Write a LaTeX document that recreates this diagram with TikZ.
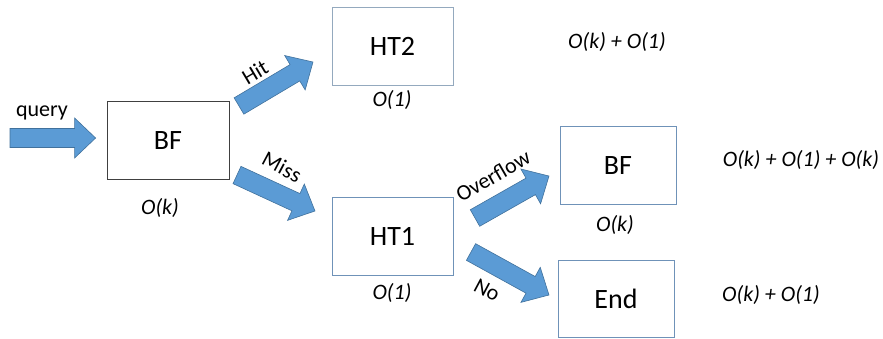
\documentclass[tikz,border=0pt]{standalone}
\usepackage{fontspec}
\setmainfont{Carlito}
\usetikzlibrary{calc}

\definecolor{arrfill}{HTML}{5B9BD5}
\definecolor{arrline}{HTML}{41719C}
\definecolor{boxblue}{HTML}{6F92B8}
\definecolor{boxgrey}{HTML}{404040}
\definecolor{boxpale}{HTML}{94A9BE}

% Block arrow from one coordinate to another (shaft half-width 9.5pt, head half-width 20pt)
\newcommand\blockarr[2]{%
  \path (#1); \pgfgetlastxy{\ax}{\ay}%
  \path (#2); \pgfgetlastxy{\bx}{\by}%
  \pgfmathsetmacro\arrang{atan2(\by-\ay,\bx-\ax)}%
  \pgfmathsetmacro\arrlen{veclen(\bx-\ax,\by-\ay)}%
  \draw[barrow, shift={(#1)}, rotate=\arrang]
    (0pt,-9.5pt) -- (\arrlen pt-21pt,-9.5pt) -- (\arrlen pt-21pt,-20pt)
    -- (\arrlen pt,0pt) -- (\arrlen pt-21pt,20pt) -- (\arrlen pt-21pt,9.5pt)
    -- (0pt,9.5pt) -- cycle;
}

\begin{document}
\begin{tikzpicture}[x=1pt,y=-1pt,
  barrow/.style={fill=arrfill, draw=arrline, line width=0.6pt, line join=miter},
  stage/.style={draw, line width=0.8pt, fill=white, font=\fontsize{28}{28}\selectfont},
  lbl/.style={font=\fontsize{22}{22}\selectfont, inner sep=1pt},
  cost/.style={font=\fontsize{22}{22}\selectfont\itshape, inner sep=1pt}]
  \useasboundingbox (0,0) rectangle (883,338);

  % stages
  \node[stage, draw=boxgrey, minimum width=122pt, minimum height=78pt] (bf1) at (168,140.5) {BF};
  \node[stage, draw=boxpale, minimum width=121pt, minimum height=78pt] (ht2) at (392.5,46) {HT2};
  \node[stage, draw=boxblue, minimum width=121pt, minimum height=78pt] (ht1) at (392.5,236) {HT1};
  \node[stage, draw=boxblue, minimum width=116pt, minimum height=78pt] (bf2) at (618,165.5) {BF};
  \node[stage, draw=boxblue, minimum width=116pt, minimum height=77pt] (end) at (616,298.5) {End};

  % arrow end points
  \coordinate (qs) at (10,138);
  \coordinate (qe) at ($(bf1.west)+(-11,-2.5)$);
  \coordinate (hs) at (239,106);
  \coordinate (he) at (313,62);
  \coordinate (ms) at (237,175);
  \coordinate (me) at (315,211);
  \coordinate (os) at (475,218);
  \coordinate (oe) at (549,176);
  \coordinate (ns) at (471,252);
  \coordinate (ne) at (549,295);

  \blockarr{qs}{qe}
  \blockarr{hs}{he}
  \blockarr{ms}{me}
  \blockarr{os}{oe}
  \blockarr{ns}{ne}

  % arrow labels
  \node[lbl] (lq) at (42,113) {query};
  \node[lbl, rotate=30.7] (lh) at (255,72) {Hit};
  \node[lbl, rotate=-28] (lm) at (282,167) {Miss};
  \node[lbl, rotate=30] (lo) at (493,176) {Overflow};
  \node[lbl, rotate=-28] (ln) at (487,290) {No};

  % per-stage costs
  \node[cost] (c1) at (160,208) {O(k)};
  \node[cost] (c2) at (392,100) {O(1)};
  \node[cost] (c3) at (392,293) {O(1)};
  \node[cost] (c4) at (615,225) {O(k)};

  % total costs
  \node[cost] (t1) at (617,42) {O(k) + O(1)};
  \node[cost] (t2) at (801,160) {O(k) + O(1) + O(k)};
  \node[cost] (t3) at (771,295) {O(k) + O(1)};
\end{tikzpicture}
\end{document}
